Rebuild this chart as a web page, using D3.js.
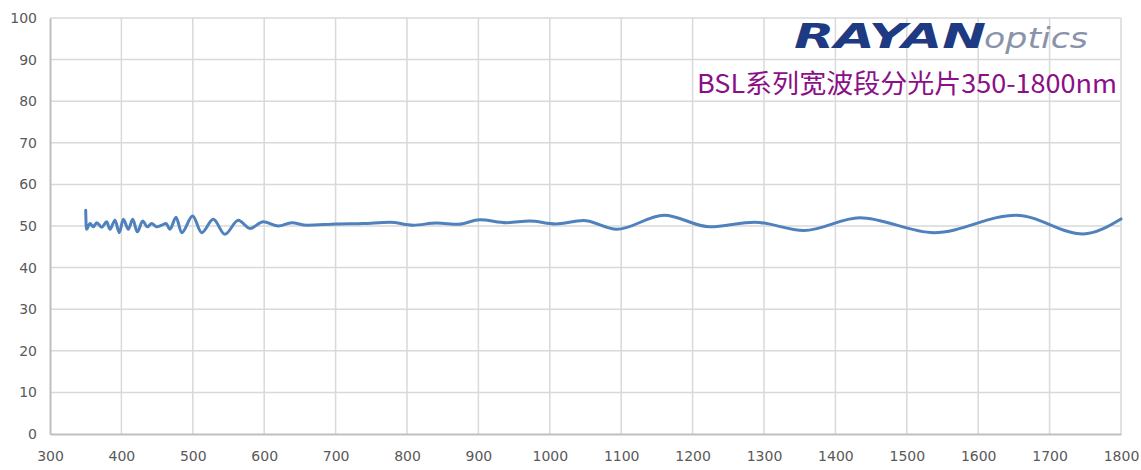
<!DOCTYPE html>
<html>
<head>
<meta charset="utf-8">
<script src="https://cdn.jsdelivr.net/npm/d3@7"></script>
<style>
  html, body { margin: 0; padding: 0; background: #fff; }
  svg { display: block; }
</style>
</head>
<body>
<svg id="chart" width="1141" height="470"></svg>
<script>
// Wavelength (nm)
const wavelength = [350, 351, 356, 360.7, 365.4, 372.4, 379.4, 384, 391, 397, 402.7, 409.7, 415.8, 422.3, 429.8, 436.3, 442.4, 449.4, 456.4, 462.5, 468, 476.5, 484.4, 499.8, 512.4, 528.7, 545, 563.7, 580, 598.7, 619.8, 638.5, 659.5, 701.5, 738.8, 776, 808.8, 841.5, 871.8, 902, 939.6, 972, 1008, 1047, 1093.7, 1160, 1224, 1287, 1356, 1434, 1538, 1653, 1747, 1800];
// Transmittance (%)
const transmittance = [53.8, 49.2, 50.6, 49.8, 50.8, 49.7, 51.0, 49.2, 51.4, 48.4, 51.6, 49.2, 51.6, 48.6, 51.2, 49.8, 50.6, 49.8, 50.2, 50.6, 49.2, 52.1, 48.4, 52.4, 48.4, 51.6, 48.0, 51.4, 49.4, 51.0, 50.0, 50.8, 50.2, 50.5, 50.6, 50.9, 50.2, 50.7, 50.4, 51.5, 50.8, 51.2, 50.5, 51.3, 49.2, 52.6, 49.8, 50.9, 48.9, 52.0, 48.4, 52.6, 48.1, 51.7];
const xTicks = [300, 400, 500, 600, 700, 800, 900, 1000, 1100, 1200, 1300, 1400, 1500, 1600, 1700, 1800];
const yTicks = [0, 10, 20, 30, 40, 50, 60, 70, 80, 90, 100];
const titleText = "BSL系列宽波段分光片350-1800nm";

const svg = d3.select("#chart");
const x = d3.scaleLinear().domain([300, 1800]).range([50, 1121]);
const y = d3.scaleLinear().domain([0, 100]).range([434, 18]);

// grid
svg.append("g").selectAll("line").data(xTicks.slice(1)).join("line")
  .attr("x1", d => x(d)).attr("x2", d => x(d))
  .attr("y1", y(0)).attr("y2", y(100))
  .attr("stroke", "#d9d9d9").attr("stroke-width", 1.5);
svg.append("g").selectAll("line").data(yTicks.slice(1)).join("line")
  .attr("x1", x(300)).attr("x2", x(1800))
  .attr("y1", d => y(d)).attr("y2", d => y(d))
  .attr("stroke", "#d9d9d9").attr("stroke-width", 1.5);

// axes
const xAxis = svg.append("g").attr("transform", `translate(0,${y(0)})`)
  .call(d3.axisBottom(x).tickValues(xTicks).tickSize(0).tickPadding(17).tickFormat(d3.format("d")));
const yAxis = svg.append("g").attr("transform", `translate(${x(300)},0)`)
  .call(d3.axisLeft(y).tickValues(yTicks).tickSize(0).tickPadding(13).tickFormat(d3.format("d")));
[xAxis, yAxis].forEach(g => {
  g.select(".domain").attr("stroke", "#bfbfbf").attr("stroke-width", 2);
  g.selectAll("text").attr("fill", "#595959")
    .style("font-family", "'DejaVu Sans', sans-serif").style("font-size", "14px");
});

// line
const pts = wavelength.map((w, i) => [w, transmittance[i]]);
svg.append("path").datum(pts)
  .attr("fill", "none").attr("stroke", "#4f81bd").attr("stroke-width", 3)
  .attr("stroke-linejoin", "round").attr("stroke-linecap", "round")
  .attr("d", d3.line().x(d => x(d[0])).y(d => y(d[1])).curve(d3.curveMonotoneX));

// logo
svg.append("text").attr("x", 794).attr("y", 48)
  .attr("textLength", 192).attr("lengthAdjust", "spacingAndGlyphs")
  .style("font-family", "'DejaVu Sans', sans-serif").style("font-weight", "bold").style("font-style", "italic")
  .style("font-size", "34px").attr("fill", "#1e3a82").text("RAYAN");
svg.append("text").attr("x", 984).attr("y", 48)
  .attr("textLength", 104).attr("lengthAdjust", "spacingAndGlyphs")
  .style("font-family", "'DejaVu Sans', sans-serif").style("font-style", "italic")
  .style("font-size", "28px").attr("fill", "#8a93ab")
  .text("optics");

// title
svg.append("text").attr("x", 1117).attr("y", 93).attr("text-anchor", "end")
  .attr("textLength", 420).attr("lengthAdjust", "spacingAndGlyphs")
  .style("font-family", "'Noto Sans CJK SC', sans-serif").style("font-size", "26px")
  .attr("fill", "#8b0f87").text(titleText);
</script>
</body>
</html>
